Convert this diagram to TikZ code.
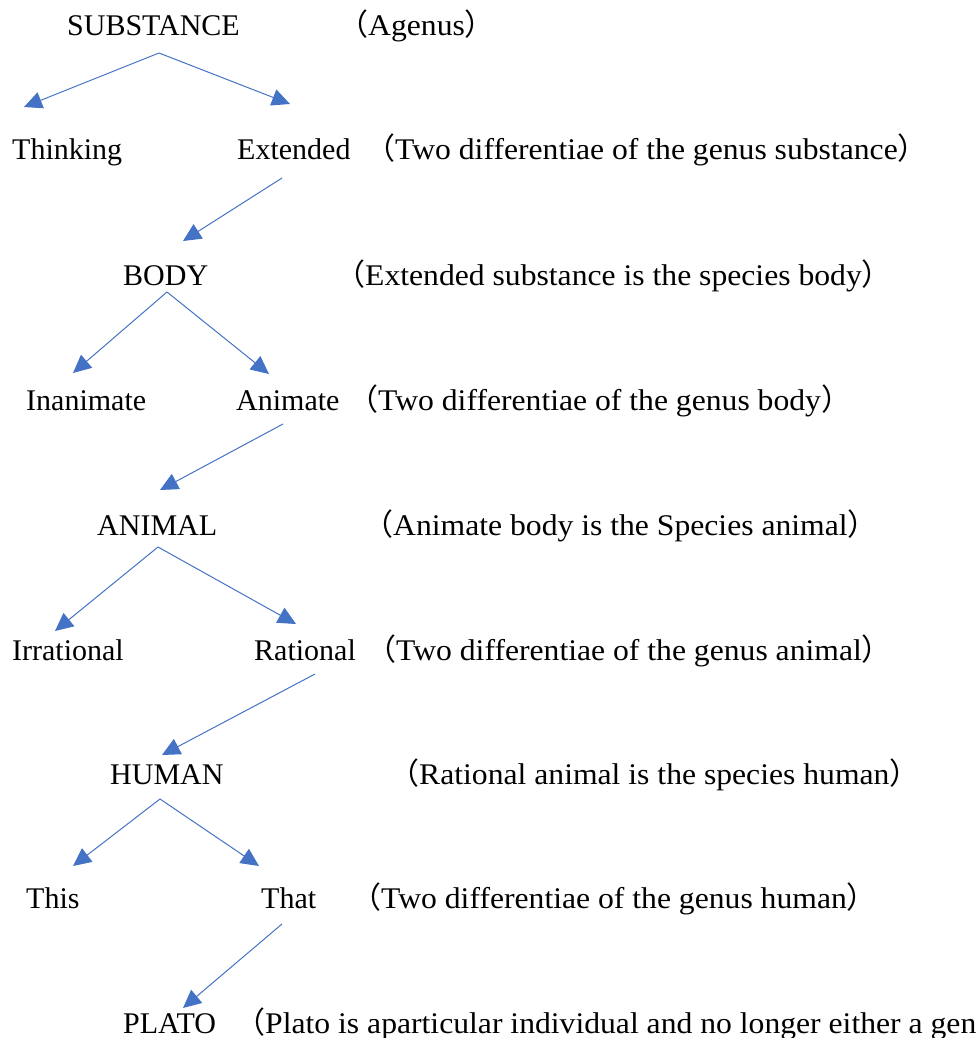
\documentclass[tikz,border=0pt]{standalone}
\usepackage{fontspec}
\setmainfont{Liberation Serif}
\newfontfamily\notefont[FakeStretch=1.055]{Liberation Serif}
\newfontfamily\cjk{Noto Sans CJK SC}
\usetikzlibrary{arrows.meta}
\definecolor{arrblue}{RGB}{68,114,196}
\newcommand{\lp}{{\cjk （}}
\newcommand{\rp}{{\cjk ）}}
\begin{document}
\begin{tikzpicture}[x=1pt,y=-1pt,
  lbl/.style={anchor=base west,inner sep=0pt,font=\fontsize{30}{36}\selectfont},
  note/.style={anchor=base west,inner sep=0pt,font=\notefont\fontsize{30}{36}\selectfont},
  arr/.style={draw=arrblue,line width=1pt,-{Triangle[length=18pt,width=17pt,fill=arrblue]}}]
\useasboundingbox (0,0) rectangle (979,1038);
% row 1
\node[lbl] (subst) at (67,36) {SUBSTANCE};
\node[note] (n1) at (338,36) {\lp Agenus\rp};
% row 2
\node[lbl] (think) at (12,159) {Thinking};
\node[lbl] (ext) at (237,159) {Extended};
\node[note] (n2) at (365,159) {\lp Two differentiae of the genus substance\rp};
% row 3
\node[lbl] (body) at (123,285) {BODY};
\node[note] (n3) at (335,285) {\lp Extended substance is the species body\rp};
% row 4
\node[lbl] (inan) at (26,410) {Inanimate};
\node[lbl] (anim) at (236,410) {Animate};
\node[note] (n4) at (348,410) {\lp Two differentiae of the genus body\rp};
% row 5
\node[lbl] (animal) at (97,535) {ANIMAL};
\node[note] (n5) at (363,535) {\lp Animate body is the Species animal\rp};
% row 6
\node[lbl] (irr) at (12,660) {Irrational};
\node[lbl] (rat) at (254,660) {Rational};
\node[note] (n6) at (366,660) {\lp Two differentiae of the genus animal\rp};
% row 7
\node[lbl] (human) at (110,784) {HUMAN};
\node[note] (n7) at (389,784) {\lp Rational animal is the species human\rp};
% row 8
\node[lbl] (this) at (26,908) {This};
\node[lbl] (that) at (261,908) {That};
\node[note] (n8) at (351,908) {\lp Two differentiae of the genus human\rp};
% row 9
\node[lbl] (plato) at (123,1033) {PLATO};
\node[note] (n9) at (235,1033) {\lp Plato is aparticular individual and no longer either a gen};
% connectors
\draw[arr] ([shift={(92,17)}]subst.base west) -- ([shift={(12,-52)}]think.base west);
\draw[arr] ([shift={(92,17)}]subst.base west) -- ([shift={(53,-55)}]ext.base west);
\draw[arr] ([shift={(45,19)}]ext.base west) -- ([shift={(60,-44)}]body.base west);
\draw[arr] ([shift={(44,7)}]body.base west) -- ([shift={(47,-37)}]inan.base west);
\draw[arr] ([shift={(44,7)}]body.base west) -- ([shift={(33,-36)}]anim.base west);
\draw[arr] ([shift={(47,14)}]anim.base west) -- ([shift={(63,-45)}]animal.base west);
\draw[arr] ([shift={(61,12)}]animal.base west) -- ([shift={(43,-29)}]irr.base west);
\draw[arr] ([shift={(61,12)}]animal.base west) -- ([shift={(42,-36)}]rat.base west);
\draw[arr] ([shift={(61,14)}]rat.base west) -- ([shift={(52,-29)}]human.base west);
\draw[arr] ([shift={(50,15)}]human.base west) -- ([shift={(47,-42)}]this.base west);
\draw[arr] ([shift={(50,15)}]human.base west) -- ([shift={(-2,-42)}]that.base west);
\draw[arr] ([shift={(21,16)}]that.base west) -- ([shift={(60,-25)}]plato.base west);
\end{tikzpicture}
\end{document}
